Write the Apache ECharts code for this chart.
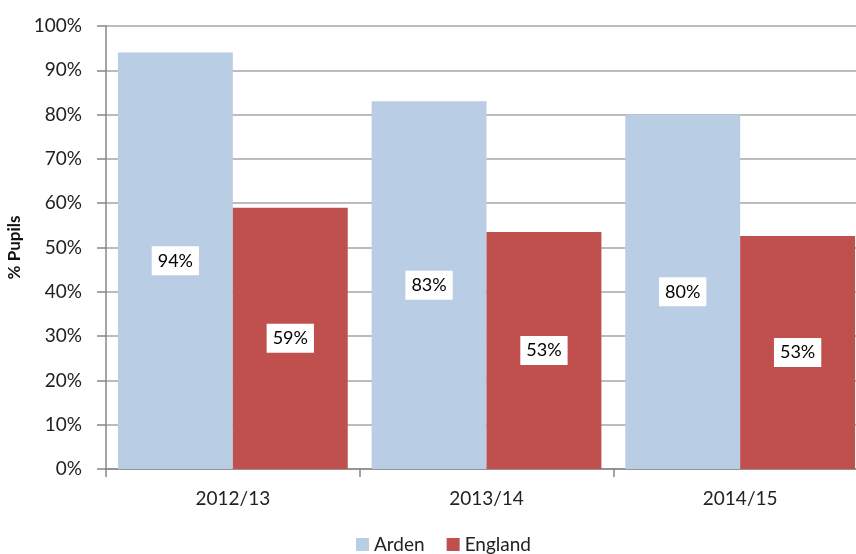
<!DOCTYPE html>
<html>
<head>
<meta charset="utf-8">
<script src="https://cdn.jsdelivr.net/npm/echarts@6/dist/echarts.min.js"></script>
<style>
  html, body { margin: 0; padding: 0; background: #fff; }
  #chart { width: 856px; height: 554px; }
</style>
</head>
<body>
<div id="chart"></div>
<script>
// data
const years = ['2012/13', '2013/14', '2014/15']
const arden = [94, 83, 80]
const england = [59, 53.5, 52.6]
const englandLabels = ['59%', '53%', '53%']

const chart = echarts.init(document.getElementById('chart'))

const FONT = 'Lato'
const labelStyle = {
  show: true,
  position: 'inside',
  backgroundColor: '#fff',
  color: '#000',
  fontFamily: FONT,
  fontSize: 18,
  padding: [6, 6, 5, 6]
}

chart.setOption({
  animation: false,
  textStyle: { fontFamily: FONT },
  // plot area runs past the right edge, like the cropped original
  grid: { left: 106, top: 26, bottom: 85, width: 761, outerBoundsMode: 'none', containLabel: false },
  legend: {
    left: 351,
    top: 530,
    itemWidth: 13,
    itemHeight: 13,
    itemGap: 22,
    icon: 'rect',
    textStyle: { fontFamily: FONT, fontSize: 19, color: '#222' },
    data: ['Arden', 'England']
  },
  xAxis: {
    type: 'category',
    data: years,
    axisLine: { lineStyle: { color: '#868686', width: 1.5 } },
    axisTick: { show: true, length: 8, lineStyle: { color: '#868686', width: 1.5 } },
    axisLabel: { color: '#222', fontSize: 19, margin: 20, fontFamily: FONT }
  },
  yAxis: {
    type: 'value',
    min: 0,
    max: 100,
    interval: 10,
    name: '% Pupils',
    nameLocation: 'middle',
    nameGap: 80,
    nameTextStyle: { fontWeight: 'bold', fontSize: 17, color: '#111', fontFamily: FONT },
    axisLine: { show: true, lineStyle: { color: '#868686', width: 1.5 } },
    axisTick: { show: true, length: 9, lineStyle: { color: '#868686', width: 1.5 } },
    axisLabel: { formatter: '{value}%', color: '#222', fontSize: 19, margin: 24, fontFamily: FONT },
    splitLine: { lineStyle: { color: '#a6a6a6', width: 1.5 } }
  },
  series: [
    {
      name: 'Arden',
      type: 'bar',
      data: arden,
      barGap: 0,
      barCategoryGap: '9.4%',
      itemStyle: { color: '#b9cde5' },
      label: { ...labelStyle, formatter: p => Math.round(p.value) + '%' }
    },
    {
      name: 'England',
      type: 'bar',
      data: england,
      itemStyle: { color: '#c0504d' },
      label: { ...labelStyle, formatter: p => englandLabels[p.dataIndex] }
    }
  ]
})
</script>
</body>
</html>
